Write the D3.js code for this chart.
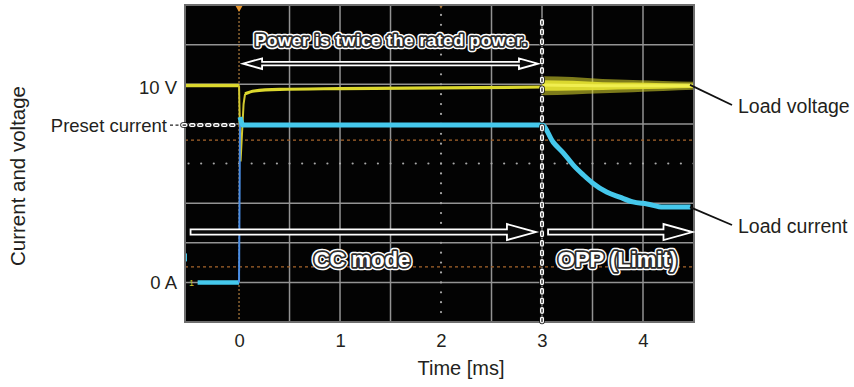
<!DOCTYPE html>
<html><head><meta charset="utf-8">
<script src="https://cdn.jsdelivr.net/npm/d3@7/dist/d3.min.js"></script>
<style>
html,body{margin:0;padding:0;background:#fff;}
svg{display:block;font-family:"Liberation Sans",Arial,Helvetica,sans-serif;}
</style></head><body>
<svg id="chart" width="854" height="387"></svg>
<script>
// ---------- data (time in ms, level in screen divisions) ----------
const timeTicks = [0, 1, 2, 3, 4];
const levelLabels = ["10 V", "Preset current", "0 A"];
const levelValues = [1.97, 0.97, -3.0];
const traceLabels = ["Load voltage", "Load current"];

const voltageBefore = [[-0.535, 1.97], [0.0, 1.97]];
const voltageDip = [[0.0, 1.97], [0.015, 0.05], [0.045, 1.5], [0.06, 1.76]];
const voltageAfter = [[0.06, 1.76], [0.15, 1.83], [0.4, 1.87], [1.0, 1.89], [2.0, 1.91], [3.0, 1.93]];
const limitTimes = [3.0, 3.3, 3.6, 3.9, 4.2, 4.505];
const limitTop = [2.2, 2.18, 2.13, 2.11, 2.08, 2.06];
const limitBottom = [1.72, 1.74, 1.77, 1.8, 1.83, 1.86];
const limitMid = [1.98, 1.97, 1.96, 1.96, 1.96, 1.96];

const currentBefore = [[-0.41, -3.0], [0.0, -3.0]];
const currentRise = [[0.0, -3.0], [0.01, 1.17]];
const currentAfter = [[0.01, 1.17], [0.04, 0.97], [0.2, 0.97], [1.0, 0.97], [2.0, 0.97], [3.0, 0.97],
  [3.11, 0.54], [3.21, 0.27], [3.31, -0.04], [3.41, -0.29], [3.50, -0.49], [3.64, -0.72],
  [3.77, -0.85], [3.90, -0.97], [4.04, -1.02], [4.20, -1.10], [4.47, -1.10]];

const markerLevels = [0.59, -2.61];   // orange reference levels
const triggerTime = 0;
const limitTime = 3;

// ---------- layout ----------
const plot = {left: 185, right: 694, top: 5, bottom: 322};
const x = d3.scaleLinear().domain([-0.535, 4.505]).range([plot.left, plot.right]);
const y = d3.scaleLinear().domain([-4, 4]).range([plot.bottom, plot.top]);
const FONT = '"Liberation Sans",Arial,Helvetica,sans-serif';
const TXT = "#231f20";
const CYAN = "#45c8ec", YELLOW = "#dcd82e";

const svg = d3.select("#chart");
svg.append("defs").append("clipPath").attr("id", "clip")
  .append("rect").attr("x", plot.left).attr("y", plot.top)
  .attr("width", plot.right - plot.left).attr("height", plot.bottom - plot.top);

svg.append("rect").attr("x", plot.left).attr("y", plot.top)
  .attr("width", plot.right - plot.left).attr("height", plot.bottom - plot.top)
  .attr("fill", "#030303");

const grid = svg.append("g").attr("clip-path", "url(#clip)");
grid.selectAll("line.vg").data(d3.range(0.5, 4.01, 0.5).filter(d => d !== 2))
  .join("line").attr("class", "vg")
  .attr("x1", d => x(d)).attr("x2", d => x(d))
  .attr("y1", plot.top).attr("y2", plot.bottom)
  .attr("stroke", "#939393").attr("stroke-width", 1.5);
grid.selectAll("line.hg").data([-3, -2, -1, 1, 2, 3])
  .join("line").attr("class", "hg")
  .attr("x1", plot.left).attr("x2", plot.right)
  .attr("y1", d => y(d)).attr("y2", d => y(d))
  .attr("stroke", "#939393").attr("stroke-width", 1.5);
grid.selectAll("circle.hd").data(d3.range(-0.5, 4.501, 0.125))
  .join("circle").attr("class", "hd")
  .attr("cx", d => x(d)).attr("cy", y(0)).attr("r", 1.1).attr("fill", "#a8a8a8");
grid.selectAll("circle.vd").data(d3.range(-4, 4.001, 0.25))
  .join("circle").attr("class", "vd")
  .attr("cx", x(2)).attr("cy", d => y(d)).attr("r", 1.1).attr("fill", "#a8a8a8");
grid.selectAll("line.ol").data(markerLevels)
  .join("line").attr("class", "ol")
  .attr("x1", plot.left).attr("x2", plot.right)
  .attr("y1", d => y(d)).attr("y2", d => y(d))
  .attr("stroke", "#a8662c").attr("stroke-width", 1.1).attr("stroke-dasharray", "3,3");
grid.append("line").attr("x1", x(triggerTime)).attr("x2", x(triggerTime))
  .attr("y1", plot.top).attr("y2", plot.bottom)
  .attr("stroke", "#8c6434").attr("stroke-width", 1.5).attr("stroke-dasharray", "2,2");
svg.append("path")
  .attr("d", `M${x(triggerTime) - 4},${plot.top} L${x(triggerTime) + 4},${plot.top} L${x(triggerTime)},${plot.top + 7} Z`)
  .attr("fill", "#e8962e");
svg.append("path")
  .attr("d", `M${x(2) - 2},${plot.top} L${x(2) + 2},${plot.top} L${x(2)},${plot.top + 4} Z`)
  .attr("fill", "#b07a3a");
svg.append("text").attr("x", plot.left + 4).attr("y", y(-3.0) + 3.5)
  .attr("font-size", 9).attr("font-family", FONT).attr("fill", "#c8c030").text("1");
svg.append("rect").attr("x", plot.left).attr("y", y(-2.37) - 4).attr("width", 2).attr("height", 8).attr("fill", CYAN);

// ---------- traces ----------
const traces = svg.append("g").attr("clip-path", "url(#clip)");
const line = d3.line().x(d => x(d[0])).y(d => y(d[1]));
const smooth = d3.line().x(d => x(d[0])).y(d => y(d[1])).curve(d3.curveMonotoneX);
const bandArea = d3.area().x(d => x(d[0])).y0(d => y(d[2])).y1(d => y(d[1])).curve(d3.curveMonotoneX);

const outerBand = limitTimes.map((t, i) => [t, limitTop[i], limitBottom[i]]);
const innerBand = limitTimes.map((t, i) => [t,
  limitMid[i] + (limitTop[i] - limitMid[i]) * 0.55,
  limitMid[i] - (limitMid[i] - limitBottom[i]) * 0.55]);
traces.append("path").datum(outerBand).attr("d", bandArea)
  .attr("fill", "#cfcc2a").attr("opacity", 0.6);
traces.append("path").datum(innerBand).attr("d", bandArea)
  .attr("fill", "#e0dd30").attr("opacity", 0.95);
traces.append("path").datum(limitTimes.map((t, i) => [t, limitMid[i]]))
  .attr("d", smooth).attr("fill", "none").attr("stroke", "#f0ee50").attr("stroke-width", 3);
traces.append("path").datum(voltageBefore).attr("d", line)
  .attr("fill", "none").attr("stroke", YELLOW).attr("stroke-width", 3.5);
traces.append("path").datum(voltageDip).attr("d", line)
  .attr("fill", "none").attr("stroke", "#d2c830").attr("stroke-width", 2);
traces.append("path").datum(voltageAfter).attr("d", smooth)
  .attr("fill", "none").attr("stroke", YELLOW).attr("stroke-width", 3.2);

traces.append("path").datum(currentBefore).attr("d", line)
  .attr("fill", "none").attr("stroke", CYAN).attr("stroke-width", 4.5);
traces.append("path").datum(currentRise).attr("d", line)
  .attr("fill", "none").attr("stroke", "#4a8ee6").attr("stroke-width", 2);
traces.append("path").datum(currentAfter).attr("d", smooth)
  .attr("fill", "none").attr("stroke", CYAN).attr("stroke-width", 5)
  .attr("stroke-linejoin", "round");

svg.append("rect").attr("x", plot.left).attr("y", plot.top)
  .attr("width", plot.right - plot.left).attr("height", plot.bottom - plot.top)
  .attr("fill", "none").attr("stroke", "#6e6e6e").attr("stroke-width", 2);

// ---------- capsule dashed lines ----------
function capsuleLine(x1, y1, x2, y2, dash) {
  const g = svg.append("g");
  [["#111", 5.5], ["#fff", 4], ["#111", 1.2]].forEach(([c, w]) => {
    g.append("line").attr("x1", x1).attr("y1", y1).attr("x2", x2).attr("y2", y2)
      .attr("stroke", c).attr("stroke-width", w).attr("stroke-linecap", "round")
      .attr("stroke-dasharray", dash);
  });
}
capsuleLine(x(limitTime), 21, x(limitTime), plot.bottom + 2, "3,6.6");
capsuleLine(183, y(levelValues[1]), x(triggerTime) - 1, y(levelValues[1]), "2.6,5.4");
svg.append("line").attr("x1", 170).attr("x2", 180).attr("y1", y(levelValues[1])).attr("y2", y(levelValues[1]))
  .attr("stroke", "#222").attr("stroke-width", 1.2).attr("stroke-dasharray", "3,2.5");

// ---------- hollow arrows ----------
function arrow(xa, xb, yc, s, h, hl, both) {
  let d;
  if (both) {
    d = `M${xa},${yc} L${xa + hl},${yc - h} L${xa + hl},${yc - s} L${xb - hl},${yc - s} L${xb - hl},${yc - h} L${xb},${yc}` +
        ` L${xb - hl},${yc + h} L${xb - hl},${yc + s} L${xa + hl},${yc + s} L${xa + hl},${yc + h} Z`;
  } else {
    d = `M${xa},${yc - s} L${xb - hl},${yc - s} L${xb - hl},${yc - h} L${xb},${yc} L${xb - hl},${yc + h} L${xb - hl},${yc + s} L${xa},${yc + s} Z`;
  }
  svg.append("path").attr("d", d).attr("fill", "#0a0a0a")
    .attr("stroke", "#fff").attr("stroke-width", 1.8).attr("stroke-linejoin", "miter");
}
arrow(x(0.04), x(2.96), y(2.52), 1.8, 5.3, 19, true);
arrow(x(-0.48), x(2.94), y(-1.73), 2.6, 8, 29, false);
arrow(x(3.06), x(4.49), y(-1.73), 2.6, 8, 29, false);

// ---------- outlined labels ----------
function outlined(cx, by, txt, size, len) {
  const g = svg.append("g").attr("font-family", FONT).attr("font-weight", "bold")
    .attr("font-size", size).attr("text-anchor", "middle");
  const layers = [["#fff", 6.5], ["#2b2b2b", 3.6]];
  layers.forEach(([c, w]) => {
    const t = g.append("text").attr("x", cx).attr("y", by).text(txt)
      .attr("fill", "none").attr("stroke", c).attr("stroke-width", w).attr("stroke-linejoin", "round");
    if (len) t.attr("textLength", len).attr("lengthAdjust", "spacing");
  });
  const t = g.append("text").attr("x", cx).attr("y", by).text(txt).attr("fill", "#fff");
  if (len) t.attr("textLength", len).attr("lengthAdjust", "spacing");
}
outlined(391, 45.5, "Power is twice the rated power.", 17, 272);
outlined(362, 267, "CC mode", 22);
outlined(617.5, 267, "OPP (Limit)", 22);

// ---------- axes ----------
const xAxis = svg.append("g").attr("transform", `translate(0,${plot.bottom})`)
  .call(d3.axisBottom(x).tickValues(timeTicks).tickFormat(d3.format("d")).tickSize(0).tickPadding(12));
xAxis.select(".domain").remove();
xAxis.attr("font-family", FONT).attr("font-size", 18.5);
xAxis.selectAll("text").attr("fill", TXT);

const yAxis = svg.append("g").attr("transform", `translate(${plot.left},0)`)
  .call(d3.axisLeft(y).tickValues(levelValues).tickFormat((d, i) => levelLabels[i]).tickSize(0).tickPadding(8));
yAxis.select(".domain").remove();
yAxis.attr("font-family", FONT).attr("font-size", 18.5);
yAxis.selectAll("text").attr("fill", TXT)
  .attr("x", (d, i) => i === 1 ? -18 : -8)
  .attr("dy", (d, i) => i === 0 ? "0.42em" : "0.34em");

svg.append("text").attr("x", 461).attr("y", 375).attr("text-anchor", "middle")
  .attr("font-family", FONT).attr("font-size", 20).attr("fill", TXT).text("Time [ms]");
svg.append("text").attr("transform", "translate(25,176) rotate(-90)").attr("text-anchor", "middle")
  .attr("font-family", FONT).attr("font-size", 20.5).attr("fill", TXT).text("Current and voltage");

// ---------- trace callouts ----------
const callouts = [
  {label: traceLabels[0], from: [plot.right - 4, y(limitMid[limitMid.length - 1]) - 1], to: [732, 105], base: 113},
  {label: traceLabels[1], from: [plot.right - 4, y(currentAfter[currentAfter.length - 1][1])], to: [732, 225], base: 233}
];
callouts.forEach(c => {
  svg.append("line").attr("x1", c.from[0]).attr("y1", c.from[1]).attr("x2", c.to[0]).attr("y2", c.to[1])
    .attr("stroke", "#111").attr("stroke-width", 1.8);
  svg.append("text").attr("x", 738).attr("y", c.base).attr("font-family", FONT)
    .attr("font-size", 19.5).attr("fill", TXT).text(c.label);
});
</script>
</body></html>
